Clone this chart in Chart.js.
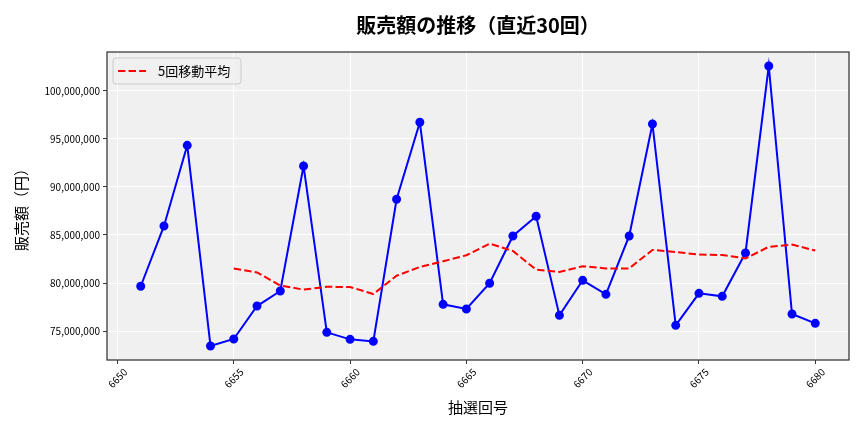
<!DOCTYPE html>
<html>
<head>
<meta charset="utf-8">
<script src="https://cdn.jsdelivr.net/npm/chart.js@4/dist/chart.umd.min.js"></script>
<style>
  html, body { margin: 0; padding: 0; background: #fff; }
  #wrap { width: 864px; height: 432px; }
</style>
</head>
<body>
<div id="wrap"><canvas id="chart" width="864" height="432"></canvas></div>
<script>
// Data
const draws = [6651, 6652, 6653, 6654, 6655, 6656, 6657, 6658, 6659, 6660,
  6661, 6662, 6663, 6664, 6665, 6666, 6667, 6668, 6669, 6670,
  6671, 6672, 6673, 6674, 6675, 6676, 6677, 6678, 6679, 6680];
const sales = [79660000, 85940000, 94340000, 73440000, 74170000, 77600000, 79170000, 92190000, 74860000, 74130000,
  73920000, 88720000, 96740000, 77780000, 77290000, 79970000, 84900000, 86950000, 76630000, 80280000,
  78820000, 84900000, 96560000, 75590000, 78920000, 78610000, 83130000, 102600000, 76770000, 75800000];
const movingAvg = [null, null, null, null, 81510000, 81100000, 79740000, 79310000, 79600000, 79590000,
  78850000, 80760000, 81670000, 82260000, 82890000, 84100000, 83340000, 81380000, 81150000, 81750000,
  81520000, 81520000, 83440000, 83230000, 82960000, 82920000, 82560000, 83770000, 84000000, 83380000];
const xTicks = [6650, 6655, 6660, 6665, 6670, 6675, 6680];
const yTicks = [75000000, 80000000, 85000000, 90000000, 95000000, 100000000];

const FONT = '"Noto Sans CJK JP", "Noto Sans", sans-serif';

// plot background, spines and the legend box
const framePlugin = {
  id: 'frame',
  beforeDraw(chart) {
    const { ctx, chartArea: a } = chart;
    ctx.save();
    ctx.fillStyle = '#f0f0f0';
    ctx.fillRect(a.left, a.top, a.right - a.left, a.bottom - a.top);
    ctx.restore();
  },
  afterDatasetsDraw(chart) {
    const { ctx, chartArea: a } = chart;
    ctx.save();
    ctx.strokeStyle = '#333333';
    ctx.lineWidth = 1.25;
    ctx.strokeRect(a.left, a.top, a.right - a.left, a.bottom - a.top);

    // legend
    const x = a.left + 6, y = a.top + 6, w = 128, h = 26;
    ctx.beginPath();
    ctx.roundRect(x, y, w, h, 3);
    ctx.fillStyle = 'rgba(240,240,240,0.8)';
    ctx.fill();
    ctx.strokeStyle = '#cccccc';
    ctx.lineWidth = 1;
    ctx.stroke();
    ctx.beginPath();
    ctx.setLineDash([7.4, 3.2]);
    ctx.strokeStyle = '#ff0000';
    ctx.lineWidth = 2;
    ctx.moveTo(x + 5, y + h / 2);
    ctx.lineTo(x + 33, y + h / 2);
    ctx.stroke();
    ctx.setLineDash([]);
    ctx.fillStyle = '#000000';
    ctx.font = '13px ' + FONT;
    ctx.textBaseline = 'middle';
    ctx.fillText(chart.data.datasets[0].label, x + 45, y + h / 2);
    ctx.restore();
  }
};

const data = {
  datasets: [
    {
      label: '5回移動平均',
      data: draws.map((d, i) => ({ x: d, y: movingAvg[i] })),
      borderColor: '#ff0000',
      borderWidth: 2,
      borderDash: [7.4, 3.2],
      pointRadius: 0,
      fill: false,
    },
    {
      label: '販売額',
      data: draws.map((d, i) => ({ x: d, y: sales[i] })),
      borderColor: '#0000ff',
      backgroundColor: '#0000ff',
      borderWidth: 2,
      pointRadius: 3.5,
      pointBackgroundColor: '#0000ff',
      pointBorderColor: '#0000ff',
      fill: false,
    },
  ],
};

const options = {
  responsive: false,
  animation: false,
  layout: { padding: { top: 0, right: 15, left: 0, bottom: 0 } },
  plugins: {
    legend: { display: false },
    tooltip: { enabled: false },
    title: {
      display: true,
      text: '販売額の推移（直近30回）',
      fullSize: false,
      color: '#000000',
      font: { family: FONT, size: 20, weight: 'bold' },
      padding: { top: 13, bottom: 15 },
    },
  },
  scales: {
    x: {
      type: 'linear',
      min: 6649.55,
      max: 6681.45,
      afterBuildTicks: (s) => { s.ticks = xTicks.map(v => ({ value: v })); },
      afterFit: (s) => { s.height = 72; },
      grid: { color: '#ffffff', lineWidth: 1, tickColor: '#333333', tickLength: 4 },
      border: { display: false },
      ticks: {
        color: '#000000',
        font: { family: FONT, size: 10 },
        minRotation: 45,
        maxRotation: 45,
        labelOffset: 8,
        padding: 2,
        callback: (v) => String(v),
      },
      title: {
        display: true,
        text: '抽選回号',
        color: '#000000',
        font: { family: FONT, size: 15 },
        padding: { bottom: 16 },
      },
    },
    y: {
      min: 71980000,
      max: 104060000,
      afterBuildTicks: (s) => { s.ticks = yTicks.map(v => ({ value: v })); },
      afterFit: (s) => { s.width = 107; },
      grid: { color: '#ffffff', lineWidth: 1, tickColor: '#333333', tickLength: 4 },
      border: { display: false },
      ticks: {
        color: '#000000',
        font: { family: FONT, size: 10 },
        padding: 3,
        callback: (v) => v.toLocaleString('en-US'),
      },
      title: {
        display: true,
        text: '販売額（円）',
        color: '#000000',
        font: { family: FONT, size: 15 },
        padding: { top: 12 },
      },
    },
  },
};

// Create the line chart
new Chart(document.getElementById('chart'), {
  type: 'line',
  data: data,
  options: options,
  plugins: [framePlugin],
});
</script>
</body>
</html>
